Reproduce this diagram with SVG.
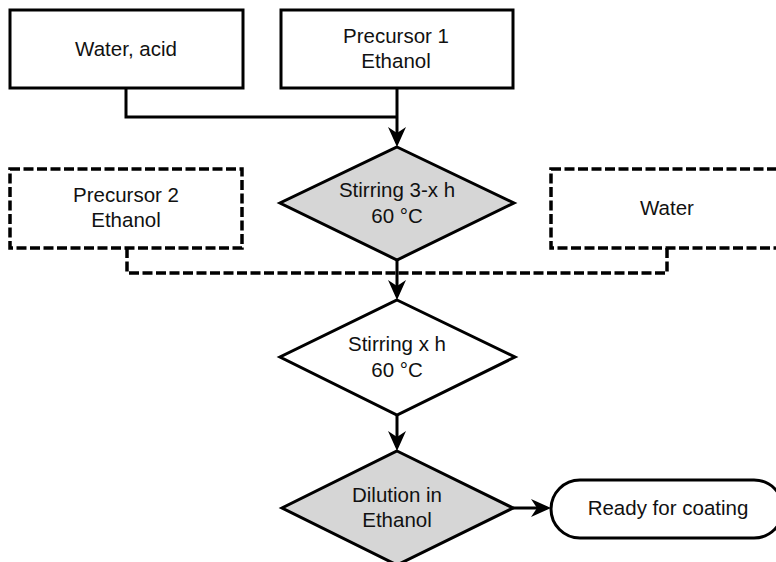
<svg xmlns="http://www.w3.org/2000/svg" width="776" height="562" viewBox="0 0 776 562">
  <defs>
    <style>
      .box { fill: #ffffff; stroke: #000; stroke-width: 3; }
      .dash { fill: #ffffff; stroke: #000; stroke-width: 3.5; stroke-dasharray: 10 3.5; }
      .dia { fill: #d6d6d6; stroke: #000; stroke-width: 3; stroke-linejoin: miter; }
      .diaw { fill: #ffffff; stroke: #000; stroke-width: 3; }
      .line { fill: none; stroke: #000; stroke-width: 3; }
      .dline { fill: none; stroke: #000; stroke-width: 3.5; stroke-dasharray: 10 3.5; }
      text { font-family: "Liberation Sans", Arial, sans-serif; font-size: 20.5px; fill: #111; text-anchor: middle; }
    </style>
    <marker id="arr" markerUnits="userSpaceOnUse" viewBox="0 0 22 20" markerWidth="22" markerHeight="20" refX="17" refY="10" orient="auto">
      <path d="M1,1 L21,10 L1,19 L7,10 Z" fill="#000"/>
    </marker>
  </defs>

  <g id="connectors">
    <path class="line" d="M126,88 V117 H397"/>
    <path class="line" d="M397,88 V143" marker-end="url(#arr)"/>
    <path class="dline" d="M127,248 V273 H397"/>
    <path class="dline" d="M667,248 V273 H397"/>
    <path class="line" d="M397,260 V296" marker-end="url(#arr)"/>
    <path class="line" d="M397,415 V447" marker-end="url(#arr)"/>
    <path class="line" d="M513,508 H547" marker-end="url(#arr)"/>
  </g>

  <g id="water-acid">
    <rect class="box" x="10" y="10" width="233" height="78"/>
    <text x="126" y="56">Water, acid</text>
  </g>

  <g id="precursor1">
    <rect class="box" x="281" y="10" width="232" height="78"/>
    <text x="396" y="43">Precursor 1</text>
    <text x="396" y="68">Ethanol</text>
  </g>

  <g id="precursor2">
    <rect class="dash" x="10" y="169" width="232" height="79"/>
    <text x="126" y="202">Precursor 2</text>
    <text x="126" y="227">Ethanol</text>
  </g>

  <g id="water">
    <rect class="dash" x="551" y="169" width="232" height="79"/>
    <text x="667" y="215">Water</text>
  </g>

  <g id="stirring1">
    <polygon class="dia" points="397,147 514,203 397,260 280,203"/>
    <text x="397" y="197">Stirring 3-x h</text>
    <text x="397" y="223">60 °C</text>
  </g>

  <g id="stirring2">
    <polygon class="diaw" points="397,300 515,357 397,415 280,357"/>
    <text x="397" y="351">Stirring x h</text>
    <text x="397" y="377">60 °C</text>
  </g>

  <g id="dilution">
    <polygon class="dia" points="397,451 513,508 397,565 282,508"/>
    <text x="397" y="502">Dilution in</text>
    <text x="397" y="527">Ethanol</text>
  </g>

  <g id="ready">
    <rect class="box" x="551" y="480" width="232" height="58" rx="29" ry="29"/>
    <text x="668" y="515">Ready for coating</text>
  </g>
</svg>
